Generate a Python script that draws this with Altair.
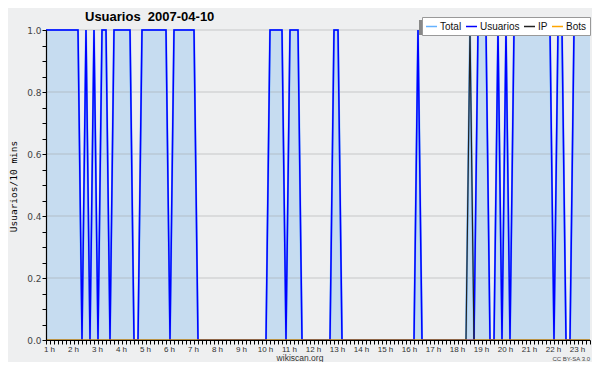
import altair as alt
import pandas as pd

# 10-minute slots starting at 1 h (slot 0) ... 137 slots
usuarios = [
    1, 1, 1, 1, 1, 1,   # 1 h
    1, 1, 1, 0, 1, 0,   # 2 h
    1, 0, 1, 1, 0, 1,   # 3 h
    1, 1, 1, 1, 0, 0,   # 4 h
    1, 1, 1, 1, 1, 1,   # 5 h
    1, 0, 1, 1, 1, 1,   # 6 h
    1, 1, 0, 0, 0, 0,   # 7 h
    0, 0, 0, 0, 0, 0,   # 8 h
    0, 0, 0, 0, 0, 0,   # 9 h
    0, 0, 1, 1, 1, 1,   # 10 h
    0, 1, 1, 1, 0, 0,   # 11 h
    0, 0, 0, 0, 0, 0,   # 12 h
    1, 1, 0, 0, 0, 0,   # 13 h
    0, 0, 0, 0, 0, 0,   # 14 h
    0, 0, 0, 0, 0, 0,   # 15 h
    0, 0, 0, 1, 0, 0,   # 16 h
    0, 0, 0, 0, 0, 0,   # 17 h
    0, 0, 0, 0, 0, 0,   # 18 h
    1, 1, 1, 0, 0, 1,   # 19 h
    0, 1, 0, 1, 1, 1,   # 20 h
    1, 1, 1, 1, 1, 1,   # 21 h
    1, 0, 1, 1, 0, 0,   # 22 h
    1, 1, 1, 1, 1,      # 23 h
]
ip = [
    0, 0, 0, 0, 0, 0,   # 1 h
    0, 0, 0, 0, 0, 0,   # 2 h
    0, 0, 0, 0, 0, 0,   # 3 h
    0, 0, 0, 0, 0, 0,   # 4 h
    0, 0, 0, 0, 0, 0,   # 5 h
    0, 0, 0, 0, 0, 0,   # 6 h
    0, 0, 0, 0, 0, 0,   # 7 h
    0, 0, 0, 0, 0, 0,   # 8 h
    0, 0, 0, 0, 0, 0,   # 9 h
    0, 0, 0, 0, 0, 0,   # 10 h
    0, 0, 0, 0, 0, 0,   # 11 h
    0, 0, 0, 0, 0, 0,   # 12 h
    0, 0, 0, 0, 0, 0,   # 13 h
    0, 0, 0, 0, 0, 0,   # 14 h
    0, 0, 0, 0, 0, 0,   # 15 h
    0, 0, 0, 0, 0, 0,   # 16 h
    0, 0, 0, 0, 0, 0,   # 17 h
    0, 0, 0, 0, 1, 0,   # 18 h
    0, 0, 0, 0, 0, 0,   # 19 h
    0, 0, 0, 0, 0, 0,   # 20 h
    0, 0, 0, 0, 0, 0,   # 21 h
    0, 0, 0, 0, 0, 0,   # 22 h
    0, 0, 0, 0, 0,      # 23 h
]
bots = [0] * len(usuarios)
total = [u + i + b for u, i, b in zip(usuarios, ip, bots)]

series_names = ["Total", "Usuarios", "IP", "Bots"]
series_colors = ["#66b2ff", "#0000ff", "#222222", "#ffa500"]
grid_values = [0.2, 0.4, 0.6, 0.8, 1.0]
y_ticks = [round(i * 0.05, 2) for i in range(21)]
x_ticks = list(range(len(usuarios)))
chart_title = "Usuarios\u00a0\u00a02007-04-10"
footer_text = "wikiscan.org"
license_text = "CC BY-SA 3.0"

slots = list(range(len(usuarios)))
wide = pd.DataFrame({"slot": slots, "Total": total, "Usuarios": usuarios, "IP": ip, "Bots": bots})
long = wide.melt(id_vars="slot", var_name="series", value_name="value")
area_df = pd.DataFrame({"slot": slots, "value": total})
grid_df = pd.DataFrame({"value": grid_values})

X = alt.X(
    "slot:Q",
    scale=alt.Scale(domain=[0, len(usuarios) - 1], nice=False, zero=False),
    axis=alt.Axis(
        values=x_ticks, title=None, grid=False,
        labelExpr="datum.value % 6 == 0 ? (datum.value / 6 + 1) + ' h' : ''",
        tickSize=4, tickColor="black", domainColor="black", domainWidth=1.2,
        labelFont="Liberation Sans", labelFontSize=8, labelColor="#333333",
        labelPadding=1, labelOverlap=False, labelFlush=False, labelOffset=3, zindex=1,
    ),
)
Y = alt.Y(
    "value:Q",
    scale=alt.Scale(domain=[0, 1], nice=False, zero=True),
    axis=alt.Axis(
        values=y_ticks, grid=False,
        labelExpr="round(datum.value * 20) % 4 == 0 ? format(datum.value, '.1f') : ''",
        tickSize=4, tickColor="black", domainColor="black", domainWidth=1.2,
        labelFont="DejaVu Sans", labelFontSize=9, labelColor="#444444",
        labelPadding=1, labelOverlap=False, labelFlush=False, zindex=1,
        title="Usuarios/10 mins", titleFont="DejaVu Sans Mono", titleFontSize=9.5,
        titleFontWeight="normal", titleColor="#000000",
        titleX=-38, titleY=156, titleAlign="center", titleBaseline="top", titleAngle=270,
    ),
)

color = alt.Color(
    "series:N",
    scale=alt.Scale(domain=series_names, range=series_colors),
    legend=alt.Legend(
        title=None, orient="none", legendX=376, legendY=-13, direction="horizontal",
        symbolType="stroke", symbolSize=121, symbolStrokeWidth=1.5,
        labelFont="Liberation Sans", labelFontSize=10, labelColor="#111111",
        labelOffset=2, columnPadding=1, padding=3, gridAlign="none",
        fillColor="white", strokeColor="#999999",
    ),
)

area = alt.Chart(area_df).mark_area(color="#c6dcf0", opacity=1, interpolate="linear").encode(x=X, y=Y)
grid = alt.Chart(grid_df).mark_rule(color="#a0a0a0", opacity=0.5, strokeWidth=1).encode(y=Y)

def line_layer(name, width):
    return alt.Chart(long).transform_filter(alt.datum.series == name).mark_line(
        strokeWidth=width, interpolate="linear").encode(x=X, y=Y, color=color)

lines = [line_layer("Total", 2), line_layer("Usuarios", 1.5), line_layer("IP", 1.2), line_layer("Bots", 1.2)]

shadow = alt.Chart(pd.DataFrame({"a": [0]})).mark_rect(color="#888888").encode(
    x=alt.value(373), x2=alt.value(543), y=alt.value(-10), y2=alt.value(5))

title_mark = alt.Chart(pd.DataFrame({"t": [chart_title]})).mark_text(
    font="Liberation Sans", fontSize=13, fontWeight="bold", color="#000000",
    align="left", baseline="alphabetic"
).encode(text="t:N", x=alt.value(39), y=alt.value(-9))
footer = alt.Chart(pd.DataFrame({"t": [footer_text]})).mark_text(
    font="Liberation Sans", fontSize=8.5, color="#333333", align="center", baseline="alphabetic"
).encode(text="t:N", x=alt.value(254), y=alt.value(331))
license_txt = alt.Chart(pd.DataFrame({"t": [license_text]})).mark_text(
    font="Liberation Sans", fontSize=6, color="#444444", align="right", baseline="alphabetic"
).encode(text="t:N", x=alt.value(544), y=alt.value(331))

chart = alt.layer(area, grid, *lines, shadow, title_mark, footer, license_txt).properties(
    width=544, height=310,
    autosize=alt.AutoSizeParams(type="none"),
    padding={"left": 38, "top": 22, "right": 2, "bottom": 22},
).configure(background="#eeeff0").configure_view(stroke=None)

chart.save("out.html", embed_options={"renderer": "svg", "actions": False})
